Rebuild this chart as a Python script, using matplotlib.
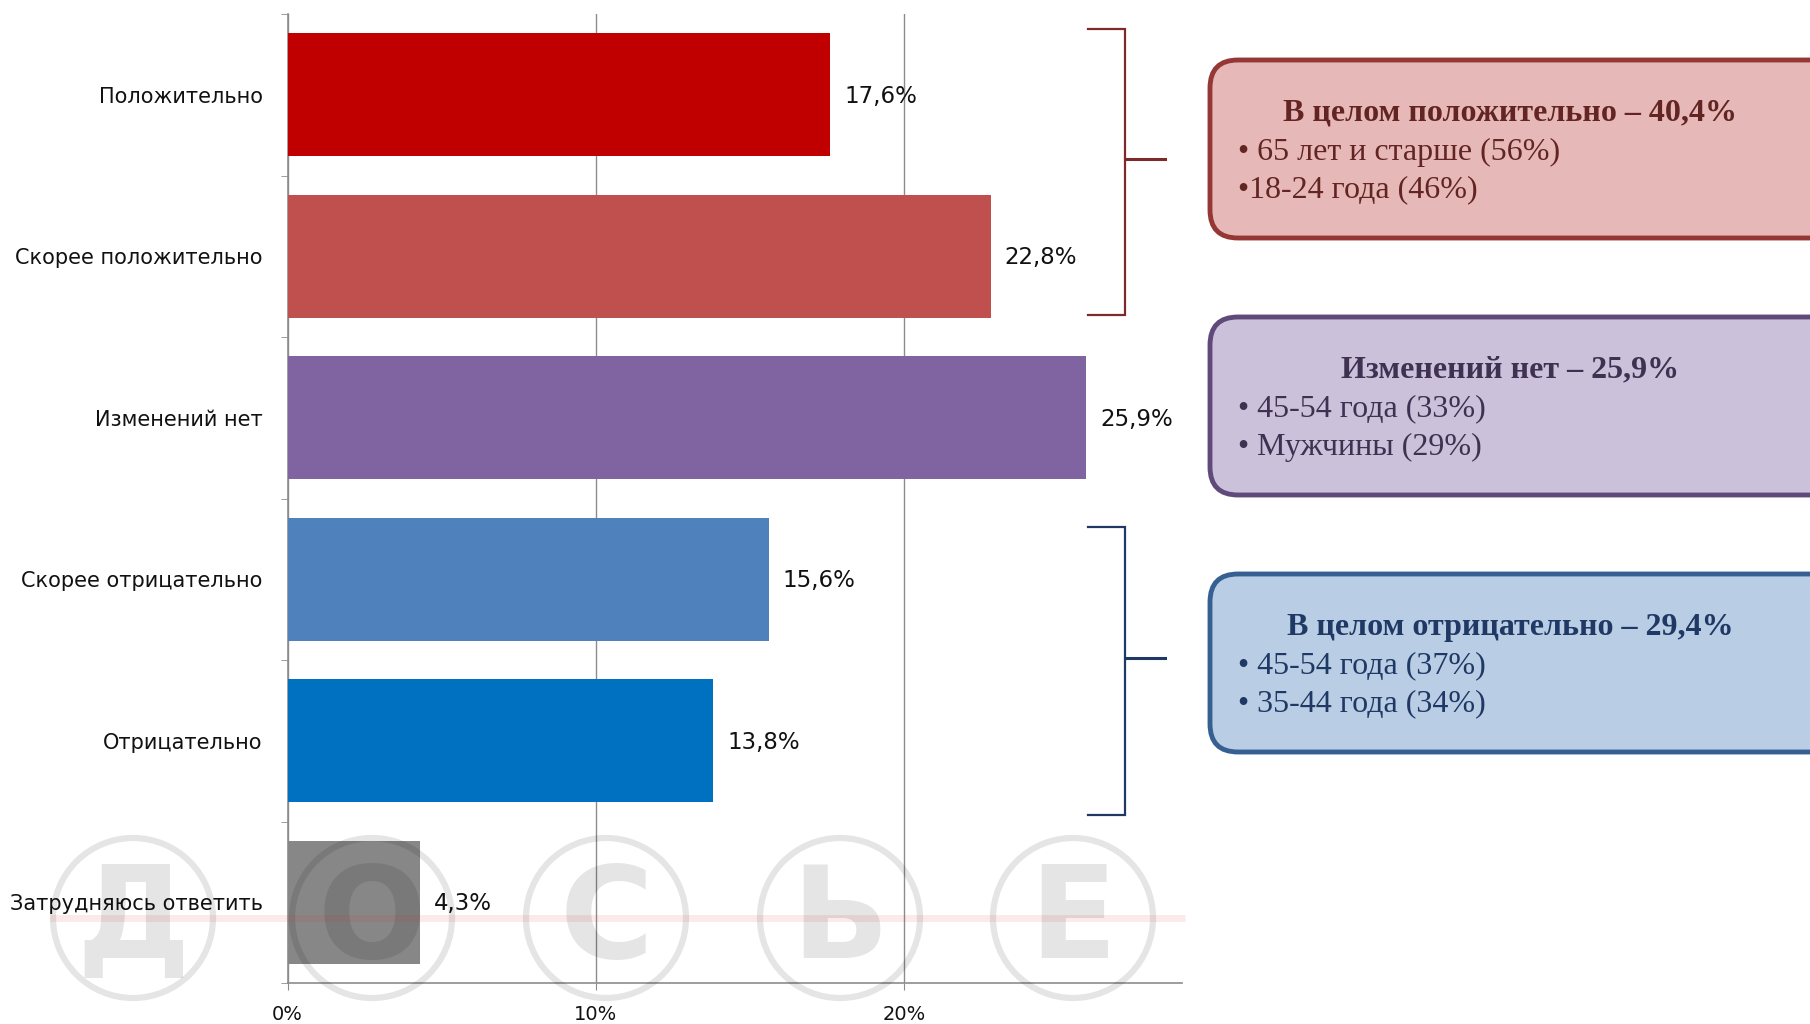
import matplotlib
matplotlib.use("Agg")
import matplotlib.pyplot as plt
from matplotlib.patches import FancyBboxPatch, Circle
from matplotlib.ticker import FixedLocator

# ── data ──────────────────────────────────────────────────────────────────
categories = ["Положительно", "Скорее положительно", "Изменений нет",
              "Скорее отрицательно", "Отрицательно", "Затрудняюсь ответить"]
values = [17.6, 22.8, 25.9, 15.6, 13.8, 4.3]
bar_colors = ["#C00000", "#C0504D", "#8064A2", "#4F81BD", "#0070C0", "#878787"]
x_ticks = [0, 10, 20]

summary_titles = ["В целом положительно – 40,4%", "Изменений нет – 25,9%",
                  "В целом отрицательно – 29,4%"]
summary_lines = [["• 65 лет и старше (56%)", "•18-24 года (46%)"],
                 ["• 45-54 года (33%)", "• Мужчины (29%)"],
                 ["• 45-54 года (37%)", "• 35-44 года (34%)"]]
box_fill = ["#E6B9B8", "#CCC1DA", "#B9CDE5"]
box_edge = ["#953735", "#604A7B", "#376092"]
box_text = ["#632523", "#3F3151", "#1F3864"]

W, H, DPI = 1810, 1024, 100
SANS = ["Liberation Sans Narrow", "DejaVu Sans"]
SERIF = ["Liberation Serif", "DejaVu Serif"]
GRID = "#8C8C8C"

fig = plt.figure(figsize=(W / DPI, H / DPI), dpi=DPI)
fig.patch.set_facecolor("white")

# ── bar chart ─────────────────────────────────────────────────────────────
ax = fig.add_axes([287.5 / W, 41 / H, (1182 - 287.5) / W, (983 - 14) / H])
ypos = list(range(len(categories)))
bars = ax.barh(ypos, values, height=0.76, color=bar_colors, zorder=3)
for bar, val in zip(bars, values):
    ax.annotate(f"{val:.1f}%".replace(".", ","),
                (bar.get_width(), bar.get_y() + bar.get_height() / 2),
                textcoords="offset points", xytext=(10, -1), ha="left", va="center",
                fontsize=16.5, family=SANS, color="#111111")

ax.set_xlim(0, 29)
ax.set_ylim(len(categories) - 0.5, -0.5)
ax.set_yticks(ypos)
ax.set_yticklabels(categories, fontsize=15, family=SANS, color="#111111")
ax.yaxis.set_minor_locator(FixedLocator([i + 0.5 for i in range(-1, len(categories))]))
ax.tick_params(axis="y", which="major", length=0, pad=18)
ax.tick_params(axis="y", which="minor", length=5, color=GRID, direction="out")
ax.set_xticks(x_ticks)
ax.set_xticklabels([f"{t}%" for t in x_ticks], fontsize=14, family=SANS, color="#111111")
ax.tick_params(axis="x", length=5, color=GRID, pad=11)
ax.xaxis.grid(True, color=GRID, linewidth=1, zorder=0)
ax.set_axisbelow(True)
for side in ("top", "right"):
    ax.spines[side].set_visible(False)
for side in ("left", "bottom"):
    ax.spines[side].set_color(GRID)
    ax.spines[side].set_linewidth(1.2)

# ── overlay in pixel coordinates (brackets, boxes, watermark) ─────────────
ov = fig.add_axes([0, 0, 1, 1], zorder=5)
ov.set_xlim(0, W)
ov.set_ylim(H, 0)
ov.axis("off")
ov.patch.set_alpha(0)

# brackets
for (y0, y1, ym), col in [((29, 315, 159), "#7F2A2A"), ((527, 815, 658), "#1F3864")]:
    ov.plot([1088, 1125, 1125, 1088], [y0, y0, y1, y1], color=col, lw=1.6, solid_joinstyle="miter")
    ov.plot([1125, 1165], [ym, ym], color=col, lw=2.2)

# summary boxes
box_tops = [58, 315, 572]
for top, title, lines, fc, ec, tc in zip(box_tops, summary_titles, summary_lines,
                                         box_fill, box_edge, box_text):
    ov.add_patch(FancyBboxPatch((1210, top + 2), 700, 178,
                                boxstyle="round,pad=0,rounding_size=28",
                                fc=fc, ec=ec, lw=3.5, clip_on=False))
    ov.text(1510, top + 55, title, ha="center", va="center", fontsize=23,
            fontweight="bold", family=SERIF, color=tc)
    for i, line in enumerate(lines):
        ov.text(1238, top + 94 + 38 * i, line, ha="left", va="center",
                fontsize=23, family=SERIF, color=tc)

# watermark
ov.plot([50, 1185], [918, 918], color="#E53030", alpha=0.1, lw=5, solid_capstyle="butt")
for cx, letter in zip([133, 372, 606, 840, 1073], ["Д", "О", "С", "Ь", "Е"]):
    ov.add_patch(Circle((cx, 918), 80, fill=False, ec="black", alpha=0.1, lw=4.5))
    ov.text(cx, 922, letter, ha="center", va="center", fontsize=92,
            fontweight="bold", family=SANS, color="black", alpha=0.1)

fig.savefig("out.png", dpi=DPI, facecolor="white")
